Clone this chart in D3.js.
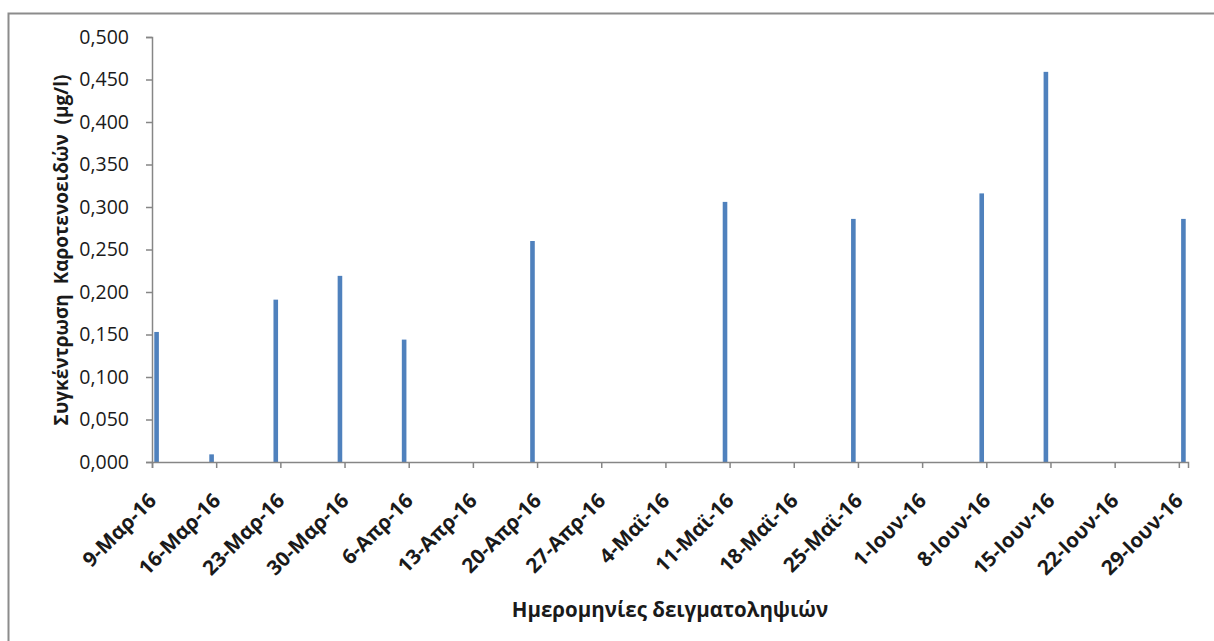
<!DOCTYPE html>
<html><head><meta charset="utf-8">
<script src="https://cdn.jsdelivr.net/npm/d3@7"></script>
<style>body{margin:0;background:#fff}svg{display:block}</style>
</head><body>
<svg id="c" width="1214" height="641"></svg>
<script>
// Data
const sampleDates = ["2016-03-09","2016-03-15","2016-03-22","2016-03-29","2016-04-05","2016-04-19","2016-05-10","2016-05-24","2016-06-07","2016-06-14","2016-06-29"];
const carotenoids = [0.153,0.009,0.191,0.219,0.144,0.260,0.306,0.286,0.316,0.459,0.286];
const tickDates = ["2016-03-09","2016-03-16","2016-03-23","2016-03-30","2016-04-06","2016-04-13","2016-04-20","2016-04-27","2016-05-04","2016-05-11","2016-05-18","2016-05-25","2016-06-01","2016-06-08","2016-06-15","2016-06-22","2016-06-29"];
const monthNames = ["Ιαν","Φεβ","Μαρ","Απρ","Μαϊ","Ιουν","Ιουλ","Αυγ","Σεπ","Οκτ","Νοε","Δεκ"];
const yTicks = [0,0.05,0.1,0.15,0.2,0.25,0.3,0.35,0.4,0.45,0.5];
const yTitle = "Συγκέντρωση  Καροτενοειδών  (μg/l)";
const xTitle = "Ημερομηνίες δειγματοληψιών";

const parse = d3.utcParse("%Y-%m-%d");
const svg = d3.select("#c");
const font = "'Open Sans', sans-serif";

// outer border
svg.append("rect").attr("x",8.5).attr("y",13.5).attr("width",1300).attr("height",700)
  .attr("fill","none").attr("stroke","#8c8c8c").attr("stroke-width",2);

const x0 = parse("2016-03-09"), x1 = d3.utcDay.offset(parse("2016-06-29"), 1);
const x = d3.scaleUtc().domain([x0, x1]).range([152, 1188]);
const y = d3.scaleLinear().domain([0,0.5]).range([462, 37]);
const dayW = x(d3.utcDay.offset(x0,1)) - x(x0);

const axisColor = "#868686";

// bars
svg.append("g").selectAll("rect").data(sampleDates).join("rect")
  .attr("x", (d)=> x(parse(d)) + dayW/2 - 2.3)
  .attr("width", 4.6)
  .attr("y", (d,i)=> y(carotenoids[i]))
  .attr("height", (d,i)=> y(0) - y(carotenoids[i]))
  .attr("fill", "#4F81BD");

// y axis
const fmt = v => d3.format(".3f")(v).replace(".", ",");
const ya = svg.append("g").attr("transform","translate(152,0)")
  .call(d3.axisLeft(y).tickValues(yTicks).tickFormat(fmt).tickSize(6).tickPadding(17));
ya.select(".domain").attr("stroke",axisColor).attr("stroke-width",1.5);
ya.selectAll(".tick line").attr("stroke",axisColor).attr("stroke-width",1.5);
ya.selectAll("text").attr("font-family",font).attr("font-size",19.5).attr("fill","#1a1a1a");

// x axis
const xa = svg.append("g").attr("transform","translate(0,462)")
  .call(d3.axisBottom(x).tickValues(tickDates.map(parse)).tickSize(6)
    .tickFormat(d => d.getUTCDate() + "-" + monthNames[d.getUTCMonth()] + "-" + String(d.getUTCFullYear()).slice(2)));
xa.select(".domain").attr("stroke",axisColor).attr("stroke-width",1.5);
xa.selectAll(".tick line").attr("stroke",axisColor).attr("stroke-width",1.5);
xa.selectAll("text").attr("font-family",font).attr("font-size",20.5).attr("font-weight","bold").attr("fill","#1a1a1a")
  .attr("text-anchor","end").attr("dy",null).attr("y",null)
  .attr("transform","translate(5,40) rotate(-45)");

// titles
svg.append("text").attr("transform","translate(68,250) rotate(-90)").attr("text-anchor","middle")
  .attr("font-family",font).attr("font-size",19).attr("font-weight","bold").attr("fill","#1a1a1a")
  .attr("xml:space","preserve").style("white-space","pre").text(yTitle);
svg.append("text").attr("x",670).attr("y",617).attr("text-anchor","middle")
  .attr("font-family",font).attr("font-size",20.5).attr("font-weight","bold").attr("fill","#1a1a1a").text(xTitle);
</script>
</body></html>
